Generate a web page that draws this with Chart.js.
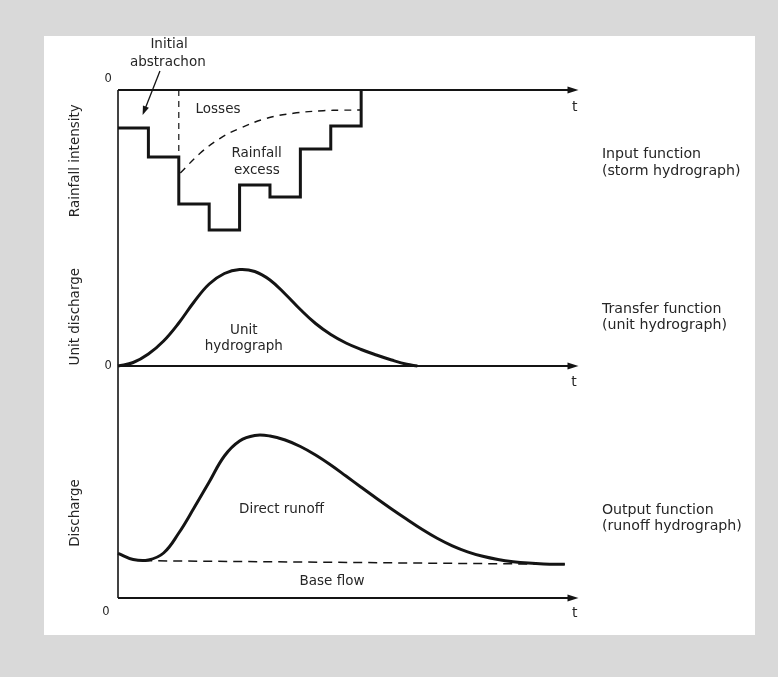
<!DOCTYPE html>
<html>
<head>
<meta charset="utf-8">
<script src="https://cdn.jsdelivr.net/npm/chart.js@4.4.1/dist/chart.umd.min.js"></script>
<style>
  html, body { margin: 0; padding: 0; background: #d9d9d9; width: 778px; height: 677px; overflow: hidden; }
  #panel { position: absolute; left: 44px; top: 36px; width: 711px; height: 599px; background: #ffffff; }
  #c { position: absolute; left: 0; top: 0; }
</style>
</head>
<body>
<div id="panel"></div>
<canvas id="c" width="778" height="677"></canvas>
<script>
// ---- Input function: storm hyetograph (hourly blocks) ----
const rainHours = [0, 1, 2, 3, 4, 5, 6, 7];
const rainfallIntensity = [3.8, 6.7, 11.4, 14.0, 9.5, 10.7, 5.9, 3.6];
const initialAbstractionEnd = 2;               // losses begin at this hour
const lossTime  = [2.05, 2.7, 3.36, 4.01, 4.89, 5.77, 6.75, 7.4, 8.0];
const lossRate  = [8.3, 6.33, 4.83, 3.83, 2.83, 2.33, 2.07, 2.02, 2.0];

// ---- Transfer function: unit hydrograph ----
const unitTime = [0, 0.5, 1, 1.5, 2, 2.5, 3, 3.5, 4, 4.5, 5, 5.5, 6, 6.5, 7, 7.5, 8, 8.5, 9, 9.5, 9.85];
const unitQ    = [0, 0.35, 1.2, 2.5, 4.3, 6.4, 8.2, 9.25, 9.65, 9.45, 8.6, 7.2, 5.65, 4.25, 3.15, 2.3, 1.65, 1.1, 0.6, 0.17, 0];

// ---- Output function: runoff hydrograph ----
const runoffTime = [0, 0.5, 1, 1.5, 2, 2.5, 3, 3.5, 4, 4.5, 5, 5.5, 6, 6.5, 7, 7.5, 8, 8.5, 9, 9.5, 10, 10.5, 11, 11.5, 12, 12.5, 13, 13.5, 14, 14.7];
const runoffQ    = [4.47, 3.85, 3.8, 4.5, 6.5, 9.0, 11.6, 14.2, 15.7, 16.25, 16.2, 15.8, 15.15, 14.3, 13.3, 12.2, 11.08, 9.98, 8.91, 7.88, 6.88, 5.98, 5.22, 4.62, 4.17, 3.85, 3.63, 3.49, 3.41, 3.37];
const baseTime = [0.83, 14.7];
const baseQ    = [3.73, 3.37];

// axis extents (time units)
const timeMax = 15.2;
const axisEnd = 15.15;

const pts = (xs, ys) => xs.map((x, i) => ({ x: x, y: ys[i] }));

const INK = '#141414';
const TXT = '#262626';
const FONT = '"DejaVu Sans", sans-serif';

const rainPoints = pts(rainHours, rainfallIntensity)
  .concat([{ x: rainHours.length, y: 0 }]);

const overlay = {
  id: 'overlay',
  beforeDatasetsDraw(chart) {
    const ctx = chart.ctx;
    const sx = chart.scales.x, y1 = chart.scales.y1, y2 = chart.scales.y2, y3 = chart.scales.y3;
    const X = v => sx.getPixelForValue(v);
    ctx.save();
    ctx.strokeStyle = INK; ctx.fillStyle = INK; ctx.lineCap = 'butt';
    ctx.lineWidth = 1.6;
    ctx.beginPath(); ctx.moveTo(X(0), y1.getPixelForValue(0)); ctx.lineTo(X(0), y3.getPixelForValue(0)); ctx.stroke();
    const hAxis = (yPix, lw) => {
      ctx.lineWidth = lw;
      ctx.beginPath(); ctx.moveTo(X(0), yPix); ctx.lineTo(X(axisEnd) - 6, yPix); ctx.stroke();
      ctx.beginPath();
      ctx.moveTo(X(axisEnd), yPix);
      ctx.lineTo(X(axisEnd) - 11, yPix - 3.5);
      ctx.lineTo(X(axisEnd) - 11, yPix + 3.5);
      ctx.closePath(); ctx.fill();
    };
    hAxis(y1.getPixelForValue(0), 2.2);
    hAxis(y2.getPixelForValue(0), 1.8);
    hAxis(y3.getPixelForValue(0), 2.0);
    ctx.restore();
  },
  afterDatasetsDraw(chart) {
    const ctx = chart.ctx;
    const sx = chart.scales.x;
    const S = chart.scales;
    const X = v => sx.getPixelForValue(v);
    const Y = (id, v) => S[id].getPixelForValue(v);
    ctx.save();
    ctx.fillStyle = TXT;
    ctx.textBaseline = 'middle';
    const text = (s, x, id, y, align, size) => {
      ctx.font = (size || 13.5) + 'px ' + FONT;
      ctx.textAlign = align || 'center';
      ctx.fillText(s, X(x), Y(id, y));
    };
    const vtext = (s, x, id, y, size) => {
      ctx.save();
      ctx.translate(X(x), Y(id, y));
      ctx.rotate(-Math.PI / 2);
      ctx.font = (size || 13.5) + 'px ' + FONT;
      ctx.textAlign = 'center';
      ctx.fillText(s, 0, 0);
      ctx.restore();
    };
    const R = 14.2;
    // top panel
    text('Initial', 1.68, 'y1', -4.6);
    text('abstrachon', 1.64, 'y1', -2.75);
    text('Losses', 3.29, 'y1', 1.93);
    text('Rainfall', 4.56, 'y1', 6.3);
    text('excess', 4.57, 'y1', 8.0);
    text('0', -0.32, 'y1', -1.1, 'center', 11.5);
    text('t', 15.03, 'y1', 1.77, 'center', 14);
    vtext('Rainfall intensity', -1.41, 'y1', 7.07);
    text('Input function', 15.92, 'y1', 6.43, 'left', R);
    text('(storm hydrograph)', 15.92, 'y1', 8.17, 'left', R);
    // arrow for initial abstraction
    const ax0 = X(1.38), ay0 = Y('y1', -1.9), ax1 = X(0.81), ay1 = Y('y1', 2.5);
    ctx.strokeStyle = INK; ctx.lineWidth = 1.3;
    const ang = Math.atan2(ay1 - ay0, ax1 - ax0);
    ctx.beginPath(); ctx.moveTo(ax0, ay0); ctx.lineTo(ax1 - 6 * Math.cos(ang), ay1 - 6 * Math.sin(ang)); ctx.stroke();
    ctx.fillStyle = INK;
    ctx.beginPath();
    ctx.moveTo(ax1, ay1);
    ctx.lineTo(ax1 - 9 * Math.cos(ang) + 3.2 * Math.sin(ang), ay1 - 9 * Math.sin(ang) - 3.2 * Math.cos(ang));
    ctx.lineTo(ax1 - 9 * Math.cos(ang) - 3.2 * Math.sin(ang), ay1 - 9 * Math.sin(ang) + 3.2 * Math.cos(ang));
    ctx.closePath(); ctx.fill();
    ctx.fillStyle = TXT;
    // middle panel
    text('Unit', 4.14, 'y2', 3.6);
    text('hydrograph', 4.14, 'y2', 1.93);
    text('0', -0.32, 'y2', 0, 'center', 11.5);
    text('t', 15.0, 'y2', -1.67, 'center', 14);
    vtext('Unit discharge', -1.41, 'y2', 4.93);
    text('Transfer function', 15.92, 'y2', 5.67, 'left', R);
    text('(unit hydrograph)', 15.92, 'y2', 4.1, 'left', R);
    // bottom panel
    text('Direct runoff', 5.38, 'y3', 8.87);
    text('Base flow', 7.04, 'y3', 1.63);
    text('0', -0.4, 'y3', -1.37, 'center', 11.5);
    text('t', 15.03, 'y3', -1.5, 'center', 14);
    vtext('Discharge', -1.39, 'y3', 8.5);
    text('Output function', 15.92, 'y3', 8.8, 'left', R);
    text('(runoff hydrograph)', 15.92, 'y3', 7.13, 'left', R);
    ctx.restore();
  }
};

new Chart(document.getElementById('c'), {
  type: 'line',
  data: {
    datasets: [
      { label: 'Rainfall', data: rainPoints, yAxisID: 'y1', stepped: 'before',
        borderColor: INK, borderWidth: 3, pointRadius: 0, fill: false, clip: false },
      { label: 'Initial abstraction', data: [{ x: initialAbstractionEnd, y: 0 }, { x: initialAbstractionEnd, y: rainfallIntensity[1] }],
        yAxisID: 'y1', borderColor: INK, borderWidth: 1.2, borderDash: [6, 5], pointRadius: 0, fill: false, clip: false },
      { label: 'Losses', data: pts(lossTime, lossRate), yAxisID: 'y1', tension: 0.4,
        borderColor: INK, borderWidth: 1.4, borderDash: [7, 6], pointRadius: 0, fill: false, clip: false },
      { label: 'Unit hydrograph', data: pts(unitTime, unitQ), yAxisID: 'y2', tension: 0.4,
        borderColor: INK, borderWidth: 3, pointRadius: 0, fill: false, clip: false },
      { label: 'Base flow', data: pts(baseTime, baseQ), yAxisID: 'y3',
        borderColor: INK, borderWidth: 1.5, borderDash: [9, 6], pointRadius: 0, fill: false, clip: false },
      { label: 'Runoff', data: pts(runoffTime, runoffQ), yAxisID: 'y3', tension: 0.4,
        borderColor: INK, borderWidth: 3, pointRadius: 0, fill: false, clip: false }
    ]
  },
  options: {
    responsive: false,
    animation: false,
    devicePixelRatio: 1,
    layout: { padding: { left: 118, top: 90, right: 198, bottom: 79 } },
    plugins: { legend: { display: false }, tooltip: { enabled: false } },
    scales: {
      x:  { type: 'linear', min: 0, max: timeMax, display: false },
      y1: { type: 'linear', reverse: true, min: 0, max: 50.8, display: false },
      y2: { type: 'linear', min: -23.2, max: 27.6, display: false },
      y3: { type: 'linear', min: 0, max: 50.8, display: false }
    }
  },
  plugins: [overlay]
});
</script>
</body>
</html>
